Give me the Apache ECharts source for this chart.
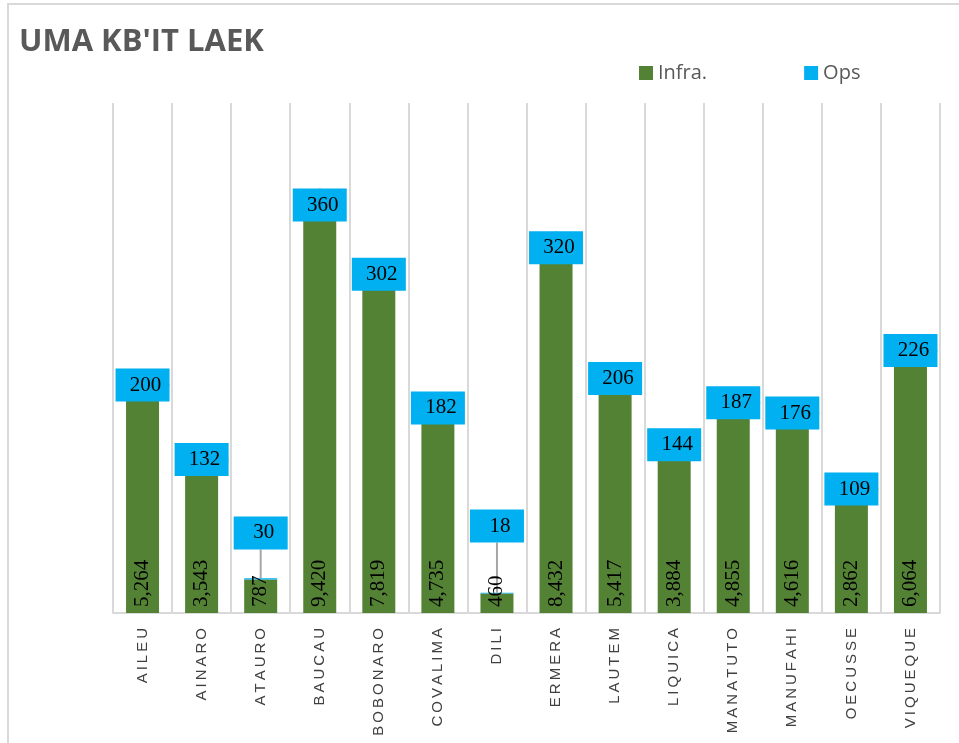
<!DOCTYPE html>
<html>
<head>
<meta charset="utf-8">
<script src="https://cdn.jsdelivr.net/npm/echarts@6/dist/echarts.min.js"></script>
<style>
  html, body { margin: 0; padding: 0; background: #fff; }
  #main { width: 959px; height: 743px; }
</style>
</head>
<body>
<div id="main"></div>
<script>
// municipios
var districts = ["AILEU", "AINARO", "ATAURO", "BAUCAU", "BOBONARO", "COVALIMA", "DILI",
  "ERMERA", "LAUTEM", "LIQUICA", "MANATUTO", "MANUFAHI", "OECUSSE", "VIQUEQUE"];
var infraValues = [5264, 3543, 787, 9420, 7819, 4735, 460, 8432, 5417, 3884, 4855, 4616, 2862, 6064];
var opsValues = [200, 132, 30, 360, 302, 182, 18, 320, 206, 144, 187, 176, 109, 226];

// labels moved up by hand (Atauro, Dili)
var movedLabels = { 2: -46, 6: -67 };

var myChart = echarts.init(document.getElementById("main"));

var option = {
  animation: false,
  title: {
    text: "UMA KB'IT LAEK",
    left: 14,
    top: 22,
    textStyle: {
      fontFamily: "Open Sans",
      fontWeight: "bold",
      fontSize: 31,
      color: "#595959"
    }
  },
  legend: {
    left: 634,
    top: 58,
    icon: "rect",
    itemWidth: 14,
    itemHeight: 14,
    itemGap: 97,
    textStyle: { fontFamily: "Open Sans", fontSize: 20, color: "#595959" },
    data: ["Infra.", "Ops"]
  },
  graphic: [{
    type: "rect",
    shape: { x: 8, y: 4, width: 1000, height: 800 },
    style: { fill: null, stroke: "#d9d9d9", lineWidth: 2 },
    silent: true
  }],
  grid: { left: 113, right: 19, top: 103, bottom: 130, outerBoundsMode: "none" },
  xAxis: {
    type: "category",
    data: districts,
    axisLine: { lineStyle: { color: "#d9d9d9", width: 2 } },
    axisTick: { show: false },
    splitLine: { show: true, interval: 0, lineStyle: { color: "#d9d9d9", width: 2 } },
    axisLabel: {
      interval: 0,
      rotate: 90,
      margin: 15,
      fontFamily: "Liberation Sans",
      fontSize: 15,
      color: "#404040",
      // spaced letters like the original
      formatter: function (v) { return v.split("").join("\u2009"); }
    }
  },
  yAxis: {
    type: "value",
    min: 0,
    max: 12000,
    show: false,
    splitLine: { show: false }
  },
  series: [
    {
      name: "Infra.",
      type: "bar",
      stack: "total",
      barWidth: 33,
      data: infraValues,
      itemStyle: { color: "#548235" },
      label: {
        show: true,
        position: "insideBottom",
        rotate: 90,
        align: "left",
        verticalAlign: "middle",
        distance: 6,
        fontFamily: "Liberation Serif",
        fontSize: 21,
        color: "#000",
        formatter: function (p) { return p.value.toLocaleString("en-US"); }
      }
    },
    {
      name: "Ops",
      type: "bar",
      stack: "total",
      barWidth: 33,
      data: opsValues,
      itemStyle: { color: "#00b0f0" },
      label: {
        show: true,
        position: "inside",
        backgroundColor: "#00b0f0",
        width: 36,
        height: 21,
        padding: [6, 6, 6, 12],
        align: "center",
        fontFamily: "Liberation Serif",
        fontSize: 21,
        color: "#000"
      },
      labelLine: {
        show: true,
        lineStyle: { color: "#a6a6a6", width: 2 }
      },
      labelLayout: function (params) {
        var dy = movedLabels[params.dataIndex];
        return dy ? { dy: dy } : {};
      }
    }
  ]
};

myChart.setOption(option);
</script>
</body>
</html>
